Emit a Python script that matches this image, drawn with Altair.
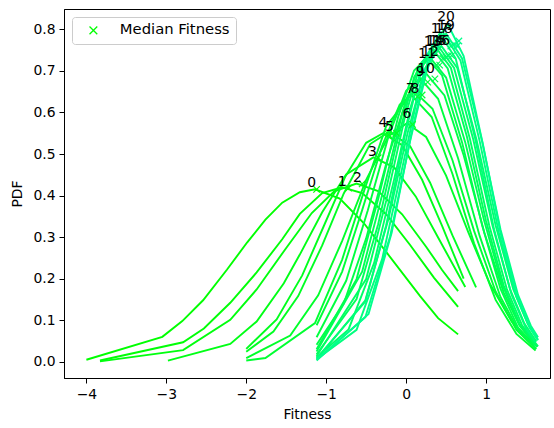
import altair as alt
import pandas as pd

# Generations plotted, one fitted density curve each
GENERATIONS = list(range(21))

# Sorted fitness values of each generation and the fitted PDF at those values
FITNESS = [
    [-4.00, -3.05, -2.80, -2.54, -2.24, -1.99, -1.76, -1.55, -1.33, -1.14, -0.83, -0.53, -0.24, 0.175, 0.40, 0.65],
    [-3.83, -2.79, -2.53, -2.20, -1.87, -1.55, -1.33, -1.05, -0.80, -0.55, -0.25, 0.05, 0.35, 0.65],
    [-3.83, -2.79, -2.20, -1.87, -1.50, -1.18, -0.90, -0.62, -0.35, -0.05, 0.25, 0.45, 0.65],
    [-2.98, -2.20, -1.87, -1.53, -1.33, -1.05, -0.75, -0.41, -0.15, 0.12, 0.40, 0.74],
    [-2.00, -1.62, -1.30, -1.02, -0.76, -0.50, -0.29, -0.05, 0.20, 0.45, 0.72],
    [-2.00, -1.66, -1.35, -1.05, -0.78, -0.45, -0.21, 0.05, 0.30, 0.58, 0.875],
    [-2.00, -1.45, -1.10, -0.80, -0.50, -0.22, 0.01, 0.25, 0.50, 0.78, 1.05, 1.32, 1.60],
    [-2.00, -1.76, -1.14, -0.80, -0.52, -0.25, 0.06, 0.32, 0.58, 0.85, 1.12, 1.38, 1.62],
    [-1.12, -0.80, -0.55, -0.30, -0.08, 0.11, 0.33, 0.58, 0.85, 1.12, 1.38, 1.62],
    [-1.12, -0.75, -0.48, -0.22, 0.00, 0.175, 0.40, 0.65, 0.92, 1.18, 1.42, 1.63],
    [-1.12, -0.78, -0.50, -0.24, 0.02, 0.25, 0.48, 0.72, 0.98, 1.22, 1.42, 1.60],
    [-1.12, -0.62, -0.35, -0.10, 0.10, 0.26, 0.45, 0.70, 0.95, 1.18, 1.40, 1.62],
    [-1.12, -0.55, -0.28, -0.05, 0.14, 0.30, 0.50, 0.74, 0.97, 1.20, 1.42, 1.64],
    [-1.12, -0.62, -0.35, -0.12, 0.10, 0.33, 0.52, 0.76, 1.00, 1.22, 1.42, 1.62],
    [-1.12, -0.50, -0.25, -0.02, 0.18, 0.36, 0.56, 0.80, 1.04, 1.26, 1.45, 1.65],
    [-1.12, -0.72, -0.40, -0.15, 0.05, 0.22, 0.40, 0.60, 0.84, 1.08, 1.30, 1.48, 1.63],
    [-1.10, -0.51, -0.22, 0.02, 0.24, 0.44, 0.64, 0.88, 1.12, 1.34, 1.52, 1.65],
    [-1.12, -0.51, -0.25, -0.02, 0.20, 0.42, 0.62, 0.86, 1.10, 1.32, 1.50, 1.62],
    [-1.12, -0.62, -0.30, -0.05, 0.18, 0.47, 0.68, 0.92, 1.16, 1.38, 1.54, 1.64],
    [-1.12, -0.51, -0.20, 0.05, 0.28, 0.50, 0.70, 0.95, 1.18, 1.40, 1.56, 1.65],
    [-1.12, -0.47, -0.18, 0.06, 0.30, 0.52, 0.72, 0.96, 1.18, 1.38, 1.55, 1.65],
]
PDF = [
    [0.005, 0.060, 0.098, 0.148, 0.222, 0.287, 0.342, 0.383, 0.408, 0.415, 0.393, 0.334, 0.262, 0.158, 0.105, 0.066],
    [0.003, 0.047, 0.080, 0.142, 0.215, 0.295, 0.356, 0.406, 0.420, 0.406, 0.355, 0.281, 0.202, 0.132],
    [0.001, 0.028, 0.101, 0.174, 0.274, 0.358, 0.410, 0.429, 0.411, 0.355, 0.277, 0.221, 0.170],
    [0.003, 0.043, 0.097, 0.189, 0.258, 0.360, 0.451, 0.492, 0.468, 0.398, 0.299, 0.180],
    [0.031, 0.102, 0.208, 0.331, 0.446, 0.527, 0.550, 0.521, 0.438, 0.327, 0.200],
    [0.024, 0.073, 0.158, 0.280, 0.405, 0.524, 0.554, 0.519, 0.431, 0.304, 0.179],
    [0.009, 0.063, 0.160, 0.291, 0.438, 0.543, 0.574, 0.541, 0.448, 0.311, 0.187, 0.097, 0.042],
    [0.003, 0.009, 0.093, 0.246, 0.415, 0.567, 0.643, 0.589, 0.452, 0.285, 0.149, 0.067, 0.027],
    [0.088, 0.217, 0.365, 0.520, 0.619, 0.649, 0.609, 0.485, 0.315, 0.169, 0.077, 0.032],
    [0.059, 0.195, 0.364, 0.543, 0.652, 0.682, 0.633, 0.490, 0.303, 0.156, 0.071, 0.031],
    [0.041, 0.140, 0.297, 0.483, 0.641, 0.694, 0.641, 0.497, 0.310, 0.167, 0.087, 0.044],
    [0.030, 0.199, 0.391, 0.589, 0.701, 0.732, 0.689, 0.528, 0.329, 0.176, 0.082, 0.033],
    [0.025, 0.217, 0.416, 0.596, 0.701, 0.732, 0.684, 0.528, 0.344, 0.187, 0.089, 0.036],
    [0.018, 0.151, 0.331, 0.525, 0.685, 0.753, 0.706, 0.542, 0.339, 0.184, 0.091, 0.039],
    [0.014, 0.199, 0.387, 0.585, 0.717, 0.760, 0.707, 0.535, 0.328, 0.175, 0.088, 0.037],
    [0.011, 0.078, 0.238, 0.439, 0.609, 0.717, 0.760, 0.707, 0.535, 0.328, 0.175, 0.092, 0.049],
    [0.010, 0.148, 0.345, 0.552, 0.707, 0.760, 0.707, 0.535, 0.328, 0.175, 0.092, 0.053],
    [0.008, 0.145, 0.328, 0.540, 0.718, 0.790, 0.730, 0.540, 0.319, 0.161, 0.080, 0.047],
    [0.006, 0.077, 0.247, 0.465, 0.670, 0.790, 0.725, 0.531, 0.311, 0.156, 0.084, 0.054],
    [0.005, 0.107, 0.302, 0.531, 0.718, 0.790, 0.730, 0.531, 0.319, 0.161, 0.087, 0.059],
    [0.003, 0.115, 0.311, 0.544, 0.749, 0.813, 0.736, 0.524, 0.311, 0.162, 0.082, 0.052],
]

# Median fitness of each generation and the PDF there
MEDIAN_FITNESS = [-1.12, -0.72, -0.55, -0.35, -0.22, -0.12, 0.08, 0.14, 0.20, 0.27, 0.36,
                  0.38, 0.42, 0.46, 0.50, 0.53, 0.57, 0.56, 0.60, 0.64, 0.66]
MEDIAN_PDF = [0.415, 0.418, 0.428, 0.491, 0.547, 0.550, 0.571, 0.638, 0.642, 0.673, 0.681,
              0.714, 0.714, 0.730, 0.733, 0.737, 0.737, 0.760, 0.764, 0.760, 0.772]

# Generation number annotations: mean fitness and peak density
LABEL_FITNESS = [-1.18, -0.80, -0.61, -0.42, -0.29, -0.21, 0.01, 0.05, 0.11, 0.175, 0.25,
                 0.26, 0.30, 0.33, 0.36, 0.40, 0.44, 0.42, 0.47, 0.50, 0.50]
LABEL_PDF = [0.419, 0.421, 0.431, 0.494, 0.562, 0.553, 0.585, 0.645, 0.645, 0.686, 0.692,
             0.728, 0.733, 0.757, 0.760, 0.760, 0.760, 0.790, 0.790, 0.795, 0.818]

X_TICKS = [-4, -3, -2, -1, 0, 1]
Y_TICKS = [0.0, 0.1, 0.2, 0.3, 0.4, 0.5, 0.6, 0.7, 0.8]

# green -> spring green, one shade per generation
LINE_COLORS = ["#%02x%02x%02x" % (0, 255, round(140 * g / 20)) for g in GENERATIONS]
X_SHAPE = "M-1,-1L1,1M1,-1L-1,1"
FONT = "DejaVu Sans"

rows = []
for g, xs, ys in zip(GENERATIONS, FITNESS, PDF):
    for i, (x, y) in enumerate(zip(xs, ys)):
        rows.append({"gen": g, "order": i, "fitness": x, "pdf": y})
curves = pd.DataFrame(rows)
medians = pd.DataFrame({"gen": GENERATIONS, "fitness": MEDIAN_FITNESS, "pdf": MEDIAN_PDF,
                        "series": ["Median Fitness"] * len(GENERATIONS)})
labels = pd.DataFrame({"gen": GENERATIONS, "fitness": LABEL_FITNESS, "pdf": LABEL_PDF,
                       "text": [str(g) for g in GENERATIONS]})

x_scale = alt.Scale(domain=[-4.28, 1.80], nice=False, zero=False)
y_scale = alt.Scale(domain=[-0.039, 0.849], nice=False, zero=False)
color_scale = alt.Scale(domain=GENERATIONS, range=LINE_COLORS)

x_enc = alt.X("fitness:Q", scale=x_scale,
              axis=alt.Axis(values=X_TICKS, format="d", title="Fitness", titlePadding=7))
y_enc = alt.Y("pdf:Q", scale=y_scale,
              axis=alt.Axis(values=Y_TICKS, format=".1f", title="PDF", titlePadding=8))
color_enc = alt.Color("gen:O", scale=color_scale, legend=None)

lines = alt.Chart(curves).mark_line(strokeWidth=1.9).encode(
    x=x_enc, y=y_enc, color=color_enc, order="order:Q"
)

points = alt.Chart(medians).mark_point(filled=False, size=42, strokeWidth=1.2, opacity=1).encode(
    x=x_enc,
    y=y_enc,
    color=color_enc,
    shape=alt.Shape(
        "series:N",
        scale=alt.Scale(domain=["Median Fitness"], range=[X_SHAPE]),
        legend=alt.Legend(
            title=None, orient="none", legendX=8, legendY=8,
            strokeColor="#cccccc", fillColor="white", cornerRadius=3, padding=6,
            symbolStrokeColor="#00ff00", symbolStrokeWidth=1.3, symbolSize=60,
            symbolOffset=8, labelOffset=19,
            labelFont=FONT, labelFontSize=14.8, labelColor="black",
        ),
    ),
)

texts = alt.Chart(labels).mark_text(
    align="center", baseline="alphabetic", font=FONT, fontSize=13.9, color="black", dy=-1
).encode(x=x_enc, y=y_enc, text="text:N")

chart = (
    alt.layer(lines, points, texts)
    .properties(
        width=486, height=369,
        padding={"left": 64, "top": 9, "right": 4, "bottom": 50},
        autosize=alt.AutoSizeParams(type="none"),
    )
    .configure_view(stroke="black", strokeWidth=1)
    .configure_axis(
        grid=False, domainColor="black", tickColor="black", labelColor="black",
        titleColor="black", labelFont=FONT, titleFont=FONT, labelFontSize=13.9,
        titleFontSize=13.9, titleFontWeight="normal", tickSize=5, labelPadding=4,
        domainWidth=1, tickWidth=1,
    )
)

chart.save("out.html", embed_options={"renderer": "svg", "actions": False})
